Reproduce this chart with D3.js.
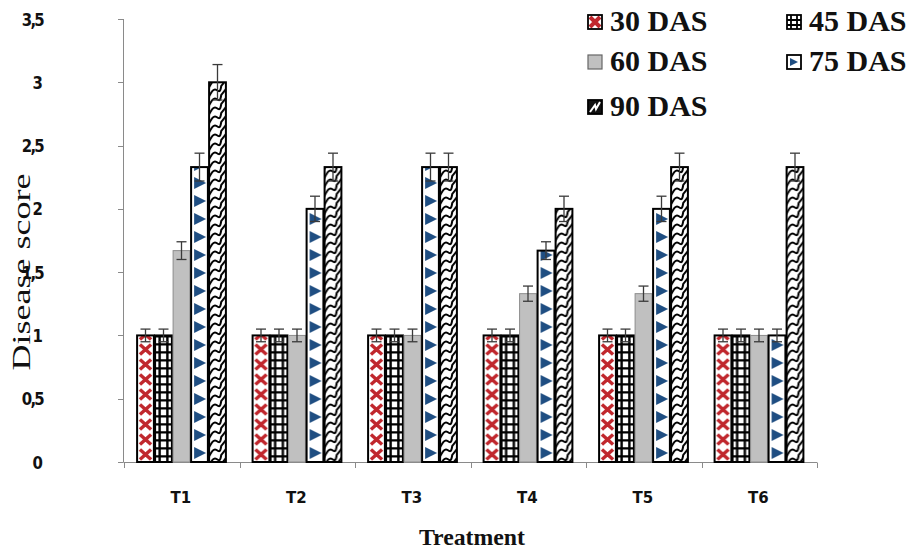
<!DOCTYPE html>
<html><head><meta charset="utf-8">
<script src="https://cdn.jsdelivr.net/npm/d3@7"></script>
<style>body{margin:0;background:#fff}svg{display:block}</style>
</head><body>
<svg id="chart" width="917" height="550"></svg>
<script>
const categories = ["T1","T2","T3","T4","T5","T6"];
const seriesNames = ["30 DAS","45 DAS","60 DAS","75 DAS","90 DAS"];
const das30 = [1,1,1,1,1,1];
const das45 = [1,1,1,1,1,1];
const das60 = [1.67,1,1,1.33,1.33,1];
const das75 = [2.33,2,2.33,1.67,2,1];
const das90 = [3,2.33,2.33,2,2.33,2.33];
const err30 = [0.05,0.05,0.05,0.05,0.05,0.05];
const err45 = [0.05,0.05,0.05,0.05,0.05,0.05];
const err60 = [0.07,0.05,0.05,0.06,0.06,0.05];
const err75 = [0.11,0.1,0.11,0.07,0.1,0.05];
const err90 = [0.14,0.11,0.11,0.1,0.11,0.11];
const yTicks = [0,0.5,1,1.5,2,2.5,3,3.5];
const yTickLabels = ["0","0,5","1","1,5","2","2,5","3","3,5"];

const values = [das30,das45,das60,das75,das90];
const errors = [err30,err45,err60,err75,err90];

const SERIF = "'Liberation Serif','Times New Roman',serif";
const SANS = "'DejaVu Sans',Verdana,sans-serif";

const svg = d3.select("#chart");
const defs = svg.append("defs");
const x0 = d3.scaleBand().domain(categories).range([124,817]).padding(0);
const x1 = d3.scaleBand().domain(seriesNames).range([12.5,102.5]).padding(0);
const y = d3.scaleLinear().domain([0,3.5]).range([462,19]);

function makePattern(id, si, ox, oy, w) {
  const tileH = [15,8,0,18,9][si];
  const p = defs.append("pattern").attr("id", id).attr("patternUnits","userSpaceOnUse")
    .attr("x", ox).attr("y", oy).attr("width", w).attr("height", tileH);
  p.append("rect").attr("width", w).attr("height", tileH).attr("fill","#fff");
  const cx = w/2;
  if (si === 0) {
    const rx = w*0.33, ry = 5;
    p.append("path").attr("d",`M${cx-rx},${tileH/2-ry}L${cx+rx},${tileH/2+ry}M${cx+rx},${tileH/2-ry}L${cx-rx},${tileH/2+ry}`)
      .attr("stroke","#c0272d").attr("stroke-width",3.4).attr("stroke-linecap","butt").attr("fill","none");
  } else if (si === 1) {
    const a = w*0.27, b = w*0.73;
    p.append("path").attr("d",`M${a},0V${tileH}M${b},0V${tileH}M0,${tileH*0.3}H${w}`)
      .attr("stroke","#000").attr("stroke-width",2.4).attr("fill","none");
  } else if (si === 3) {
    p.append("path").attr("d",`M3,${tileH/2-6}L15,${tileH/2}L3,${tileH/2+6}Z`)
      .attr("fill","#1f4e82");
  } else if (si === 4) {
    const k = w/18;
    [-9,0,9].forEach(o=>{
      p.append("path").attr("d",`M${-1*k},${14+o} C${3*k},${7+o} ${5*k},${4+o} ${8*k},${6+o} S${12*k},${8+o} ${13*k},${2+o} L${19*k},${-5+o}`)
        .attr("stroke","#000").attr("stroke-width",2).attr("fill","none");
    });
  }
  return "url(#"+id+")";
}

// axes
const gY = svg.append("g");
gY.append("line").attr("x1",123.5).attr("x2",123.5).attr("y1",y(3.5)).attr("y2",y(0)).attr("stroke","#8a8a8a").attr("stroke-width",1);
yTicks.forEach((t,i)=>{
  gY.append("line").attr("x1",118).attr("x2",123.5).attr("y1",Math.round(y(t))+0.5).attr("y2",Math.round(y(t))+0.5).attr("stroke","#8a8a8a");
  gY.append("text").attr("transform",`translate(43,${y(t)+6.5}) scale(0.88,1.08)`)
    .attr("text-anchor","end").attr("font-family",SANS).attr("font-weight","bold")
    .attr("font-size",17).attr("letter-spacing", yTickLabels[i].length>1?-2:0).attr("fill","#111").text(yTickLabels[i]);
});
const gX = svg.append("g");
gX.append("line").attr("x1",123.5).attr("x2",x0.range()[1]).attr("y1",462.5).attr("y2",462.5).attr("stroke","#8a8a8a");
categories.forEach((c,i)=>{
  const xx = Math.round(x0(c))+0.5;
  gX.append("line").attr("x1",xx).attr("x2",xx).attr("y1",462.5).attr("y2",468).attr("stroke","#8a8a8a");
  gX.append("text").attr("x",x0(c)+x0.bandwidth()/2-1).attr("y",503).attr("text-anchor","middle")
    .attr("font-family",SANS).attr("font-weight","bold").attr("font-size",15)
    .attr("fill","#111").text(c);
});
{
  const xx = Math.round(x0.range()[1])+0.5;
  gX.append("line").attr("x1",xx).attr("x2",xx).attr("y1",462.5).attr("y2",468).attr("stroke","#8a8a8a");
}

// bars
const gBars = svg.append("g");
seriesNames.forEach((s,si)=>{
  categories.forEach((c,ci)=>{
    const bx = x0(c)+x1(s)+0.6;
    const bw = x1.bandwidth()-1.2;
    const v = values[si][ci];
    const fill = si===2 ? "#c0c0c0" : makePattern(`p${si}_${ci}`, si, bx, y(0), bw);
    gBars.append("rect").attr("x",bx).attr("y",y(v)).attr("width",bw).attr("height",y(0)-y(v))
      .attr("fill",fill).attr("stroke", si===2?"#8c8c8c":"#000").attr("stroke-width", si===2?1:2);
  });
});
// error bars
const gErr = svg.append("g").attr("stroke","#3a3a3a").attr("stroke-width",1.3);
seriesNames.forEach((s,si)=>{
  categories.forEach((c,ci)=>{
    const cx = x0(c)+x1(s)+x1.bandwidth()/2;
    const v = values[si][ci], e = errors[si][ci];
    gErr.append("line").attr("x1",cx).attr("x2",cx).attr("y1",y(v+e)).attr("y2",y(v-e));
    gErr.append("line").attr("x1",cx-5).attr("x2",cx+5).attr("y1",y(v+e)).attr("y2",y(v+e));
    gErr.append("line").attr("x1",cx-5).attr("x2",cx+5).attr("y1",y(v-e)).attr("y2",y(v-e));
  });
});

// axis titles
svg.append("text").attr("transform","translate(30,272) rotate(-90)").attr("text-anchor","middle")
  .attr("font-family",SERIF).attr("font-size",26)
  .attr("textLength",197).attr("lengthAdjust","spacingAndGlyphs").attr("fill","#111").text("Disease score");
svg.append("text").attr("x",472).attr("y",545).attr("text-anchor","middle")
  .attr("font-family",SERIF).attr("font-weight","bold").attr("font-size",24)
  .attr("textLength",106).attr("lengthAdjust","spacingAndGlyphs").attr("fill","#111").text("Treatment");

// legend
const legPos = [[588,22],[787,22],[588,62],[787,62],[588,107]];
const gLeg = svg.append("g");
seriesNames.forEach((s,si)=>{
  const [lx,ly] = legPos[si];
  const sw = 14, top = ly-sw/2;
  const g = gLeg.append("g");
  if (si === 0) {
    g.append("rect").attr("x",lx).attr("y",top).attr("width",sw).attr("height",sw).attr("fill","#fff");
    g.append("path").attr("d",`M${lx+2},${top+2}L${lx+sw-2},${top+sw-2}M${lx+sw-2},${top+2}L${lx+2},${top+sw-2}`)
      .attr("stroke","#c0272d").attr("stroke-width",4);
  } else if (si === 1) {
    g.append("rect").attr("x",lx).attr("y",top).attr("width",sw).attr("height",sw).attr("fill","#fff");
    g.append("path").attr("d",`M${lx+4},${top}V${top+sw}M${lx+sw-4},${top}V${top+sw}M${lx},${top+5}H${lx+sw}M${lx},${top+10}H${lx+sw}`)
      .attr("stroke","#000").attr("stroke-width",1.8);
  } else if (si === 2) {
    g.append("rect").attr("x",lx).attr("y",top).attr("width",sw).attr("height",sw).attr("fill","#c0c0c0");
  } else if (si === 3) {
    g.append("rect").attr("x",lx).attr("y",top).attr("width",sw).attr("height",sw).attr("fill","#fff");
    g.append("path").attr("d",`M${lx+3},${top+3}L${lx+11},${top+7}L${lx+3},${top+11}Z`).attr("fill","#1f4e82");
  } else {
    g.append("rect").attr("x",lx).attr("y",top).attr("width",sw).attr("height",sw).attr("fill","#111");
    g.append("path").attr("d",`M${lx+2},${top+12}L${lx+7},${top+5}L${lx+8},${top+9}L${lx+12},${top+2}`)
      .attr("stroke","#fff").attr("stroke-width",2).attr("fill","none");
  }
  g.append("rect").attr("x",lx).attr("y",top).attr("width",sw).attr("height",sw)
    .attr("fill","none").attr("stroke", si===2?"#666":"#000").attr("stroke-width", si===2?1.2:1.8);
  gLeg.append("text").attr("x",lx+22).attr("y",ly+9).attr("font-family",SERIF)
    .attr("font-weight","bold").attr("font-size",30).attr("fill","#111").text(s);
});
</script>
</body></html>
